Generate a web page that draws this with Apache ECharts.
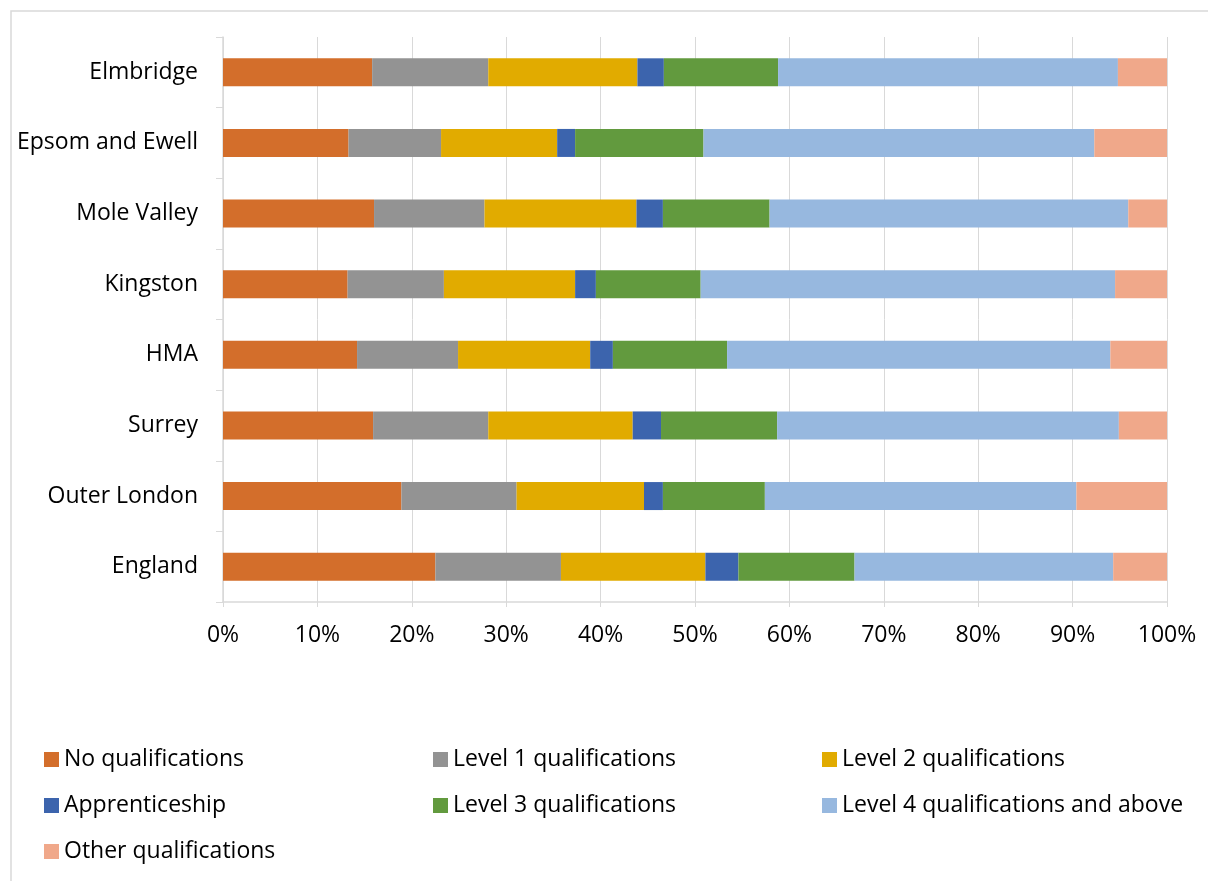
<!DOCTYPE html>
<html>
<head>
<meta charset="utf-8">
<script src="https://cdn.jsdelivr.net/npm/echarts@6/dist/echarts.min.js"></script>
<style>
  html, body { margin: 0; padding: 0; background: #fff; }
  #qualChart { width: 1208px; height: 881px; }
</style>
</head>
<body>
<div id="qualChart"></div>
<script>
// areas, top to bottom
const areas = ['Elmbridge', 'Epsom and Ewell', 'Mole Valley', 'Kingston', 'HMA', 'Surrey', 'Outer London', 'England']

// share of residents (%) by highest qualification
const noQual = [15.8, 13.3, 16.0, 13.2, 14.2, 15.9, 18.9, 22.5]
const level1 = [12.3, 9.8, 11.7, 10.2, 10.7, 12.2, 12.2, 13.3]
const level2 = [15.8, 12.3, 16.1, 13.9, 14.0, 15.3, 13.5, 15.3]
const apprentice = [2.8, 1.9, 2.8, 2.2, 2.4, 3.0, 2.0, 3.5]
const level3 = [12.1, 13.6, 11.3, 11.1, 12.1, 12.3, 10.8, 12.3]
const level4 = [36.0, 41.4, 38.0, 43.9, 40.6, 36.2, 33.0, 27.4]
const otherQual = [5.2, 7.7, 4.1, 5.5, 6.0, 5.1, 9.6, 5.7]

const pctTicks = ['0%', '10%', '20%', '30%', '40%', '50%', '60%', '70%', '80%', '90%', '100%']

const font = '"Open Sans", "Noto Sans", sans-serif'

const seriesDefs = [
  { name: 'No qualifications', data: noQual, color: '#d36e2b' },
  { name: 'Level 1 qualifications', data: level1, color: '#939393' },
  { name: 'Level 2 qualifications', data: level2, color: '#e1ab00' },
  { name: 'Apprenticeship', data: apprentice, color: '#3c64ad' },
  { name: 'Level 3 qualifications', data: level3, color: '#629a3e' },
  { name: 'Level 4 qualifications and above', data: level4, color: '#97b8df' },
  { name: 'Other qualifications', data: otherQual, color: '#f0a88a' }
]

function legendCol (left, names) {
  return {
    orient: 'vertical',
    left: left,
    top: 743,
    itemWidth: 15,
    itemHeight: 15,
    itemGap: 23,
    icon: 'rect',
    textStyle: { fontFamily: font, fontSize: 23, color: '#000' },
    data: names
  }
}

const chart = echarts.init(document.getElementById('qualChart'))
chart.setOption({
  animation: false,
  color: seriesDefs.map(s => s.color),
  graphic: [
    {
      type: 'rect',
      shape: { x: 11, y: 11, width: 1300, height: 1000 },
      style: { fill: 'none', stroke: '#d9d9d9', lineWidth: 1.5 },
      silent: true
    }
  ],
  legend: [
    legendCol(39, ['No qualifications', 'Apprenticeship', 'Other qualifications']),
    legendCol(428, ['Level 1 qualifications', 'Level 3 qualifications']),
    legendCol(817, ['Level 2 qualifications', 'Level 4 qualifications and above'])
  ],
  grid: {
    left: 223,
    right: 41,
    top: 37,
    bottom: 279
  },
  xAxis: {
    type: 'value',
    min: 0,
    max: 100,
    interval: 10,
    axisLine: { show: true, lineStyle: { color: '#d9d9d9', width: 1.5 } },
    axisTick: { show: true, length: 5, lineStyle: { color: '#d9d9d9' } },
    splitLine: { show: true, lineStyle: { color: '#d9d9d9', width: 1 } },
    axisLabel: {
      margin: 22,
      color: '#000',
      fontFamily: font,
      fontSize: 23,
      formatter: v => pctTicks[Math.round(v / 10)]
    }
  },
  yAxis: {
    type: 'category',
    inverse: true,
    data: areas,
    axisLine: { show: true, lineStyle: { color: '#d9d9d9', width: 1.5 } },
    axisTick: { show: true, length: 7, lineStyle: { color: '#d9d9d9' } },
    axisLabel: {
      margin: 25,
      color: '#000',
      fontFamily: font,
      fontSize: 23
    }
  },
  series: seriesDefs.map(s => ({
    name: s.name,
    type: 'bar',
    stack: 'total',
    barWidth: 28,
    data: s.data,
    itemStyle: { color: s.color }
  }))
})
</script>
</body>
</html>
